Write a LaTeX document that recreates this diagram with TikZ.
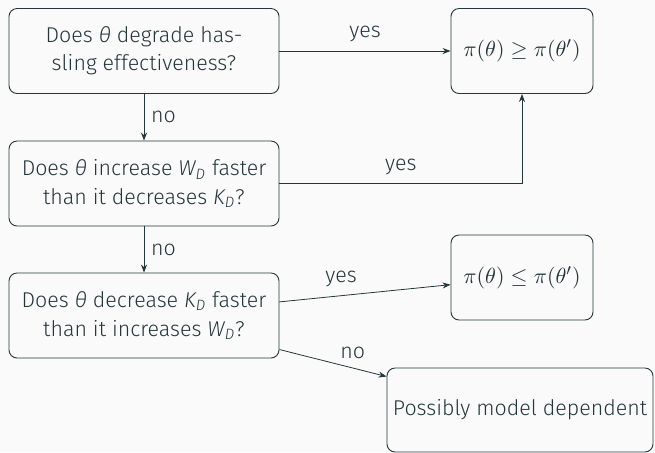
\documentclass[tikz,border=0pt]{standalone}
\usepackage{fontspec}
\setmainfont{Fira Sans}[UprightFont={* Light}, ItalicFont={* Light Italic}]
\usetikzlibrary{arrows.meta}
\definecolor{mDark}{HTML}{23373B}
\definecolor{mBg}{HTML}{FAFAFA}
\begin{document}
\begin{tikzpicture}[x=0.5pt,y=-0.5pt,
  every node/.style={text=mDark, font=\fontsize{10.7}{14.2}\selectfont},
  box/.style={draw=mDark, line width=0.45pt, rounded corners=4pt, align=center, inner sep=0pt, minimum height=42.5pt},
  wide/.style={box, minimum width=135pt},
  narrow/.style={box, minimum width=71pt},
  conn/.style={draw=mDark, line width=0.4pt, -{Stealth[length=4pt,width=3pt]}},
  lab/.style={above, yshift=1pt}
]
\fill[mBg] (0,0) rectangle (655,452);
\useasboundingbox (0,0) rectangle (655,452);
\node[wide] (b1) at (144,51) {Does {\itshape θ} degrade has-\\sling effectiveness?};
\node[wide] (b2) at (144,183.5) {Does {\itshape θ} increase {\itshape W\textsubscript{D}} faster\\than it decreases {\itshape K\textsubscript{D}}?};
\node[wide] (b3) at (144,315.5) {Does {\itshape θ} decrease {\itshape K\textsubscript{D}} faster\\than it increases {\itshape W\textsubscript{D}}?};
\node[narrow] (r1) at (522,51) {\fontsize{11}{14}\selectfont$\pi(\theta)\geq\pi(\theta')$};
\node[narrow] (r2) at (522,277.5) {\fontsize{11}{14}\selectfont$\pi(\theta)\leq\pi(\theta')$};
\node[box, minimum width=133pt, minimum height=42pt] (r3) at (520,410) {Possibly model dependent};
\draw[conn] (b1) -- node[lab] {yes} (r1);
\draw[conn] (b1) -- node[right] {no} (b2);
\draw[conn] (b2) -| node[lab, pos=0.25] {yes} (r1);
\draw[conn] (b2) -- node[right] {no} (b3);
\draw[conn] (b3) -- node[lab, pos=0.36] {yes} (r2);
\draw[conn] (b3) -- node[lab, pos=0.685] {no} (r3);
\end{tikzpicture}
\end{document}
